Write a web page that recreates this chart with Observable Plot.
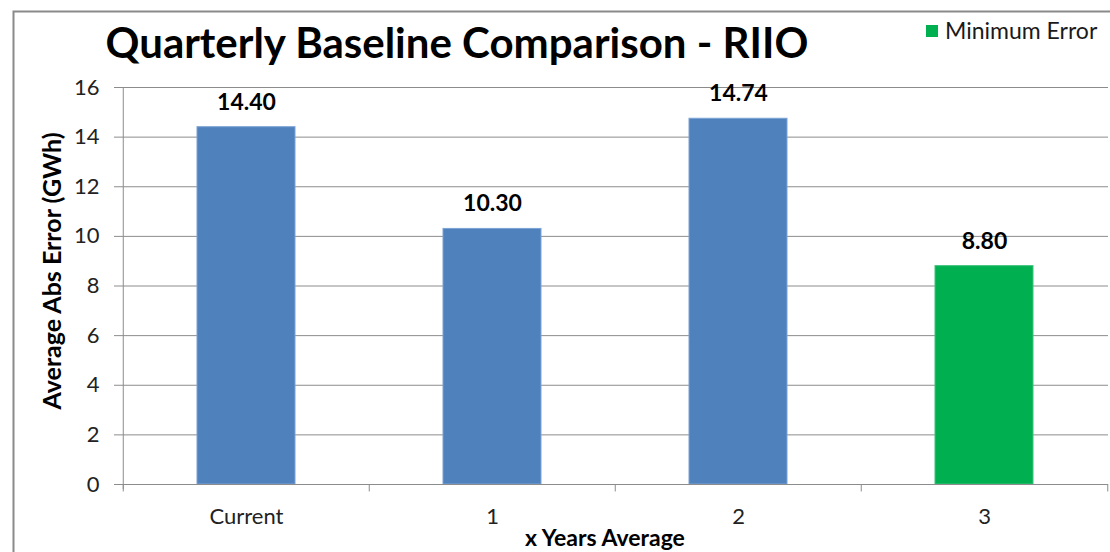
<!DOCTYPE html>
<html>
<head>
<meta charset="utf-8">
<script src="https://cdn.jsdelivr.net/npm/d3@7"></script>
<script src="https://cdn.jsdelivr.net/npm/@observablehq/plot@0.6"></script>
<style>
  html, body { margin: 0; padding: 0; background: #fff; }
  #chart svg { display: block; }
</style>
</head>
<body>
<div id="chart"></div>
<script>
// Average absolute error of each baseline method (GWh)
const categories = ["Current", "1", "2", "3"];
const errors = [14.40, 10.30, 14.74, 8.80];
const yTicks = [0, 2, 4, 6, 8, 10, 12, 14, 16];

const title = "Quarterly Baseline Comparison - RIIO";
const xTitle = "x Years Average";
const yTitle = "Average Abs Error (GWh)";
const legendLabel = "Minimum Error";

const W = 1110, H = 552;
const mL = 122, mR = 2, mT = 87, mB = 68;
const FONT = "Lato, 'Open Sans', sans-serif";
const BLUE = "#4F81BD", GREEN = "#00B050", GRID = "#8c8c8c";

const minErr = d3.min(errors);
const rows = categories.map((c, i) => ({cat: c, value: errors[i], best: errors[i] === minErr}));
const step = (W - mL - mR) / categories.length;

const plot = Plot.plot({
  width: W,
  height: H,
  marginLeft: mL,
  marginRight: mR,
  marginTop: mT,
  marginBottom: mB,
  style: {fontFamily: FONT, fontSize: "21px", color: "#222", background: "transparent"},
  x: {domain: categories, paddingInner: 0.6, paddingOuter: 0.3},
  y: {domain: [0, 16], ticks: yTicks},
  marks: [
    Plot.gridY(yTicks, {stroke: GRID, strokeOpacity: 1}),
    Plot.axisY(yTicks, {
      tickSize: 8, tickPadding: 15, stroke: GRID, fontSize: 22, label: null
    }),
    Plot.axisX({tickSize: 0, tickPadding: 24, fontSize: 22, label: null}),
    // category boundary ticks below the baseline
    Plot.ruleX(rows, {x: "cat", y1: 0, y2: -0.3, dx: -step / 2, stroke: GRID}),
    Plot.ruleX(rows.slice(-1), {x: "cat", y1: 0, y2: -0.3, dx: step / 2, stroke: GRID}),
    Plot.barY(rows, {
      x: "cat", y: "value",
      fill: d => d.best ? GREEN : BLUE,
      stroke: d => d.best ? "#3cc27a" : "#7ba3d4", strokeWidth: 1
    }),
    Plot.ruleY([0], {stroke: GRID}),
    Plot.ruleX([0], {x: () => categories[0], y1: -0.2, y2: 16, dx: -step / 2, stroke: GRID}),
    Plot.text(rows, {
      x: "cat", y: "value", text: d => d.value.toFixed(2),
      dy: -25, fontSize: 23, fontWeight: "bold", fill: "#000"
    })
  ]
});

const svg = d3.select(plot);
// outer chart border
svg.insert("rect", ":first-child")
  .attr("x", 13.5).attr("y", 11.5)
  .attr("width", W).attr("height", H)
  .attr("fill", "none").attr("stroke", "#8a8a8a").attr("stroke-width", 2);

// x-axis title
svg.append("text")
  .attr("x", 605).attr("y", 546)
  .attr("text-anchor", "middle")
  .attr("font-family", FONT).attr("font-weight", "bold")
  .attr("font-size", 23).attr("fill", "#000")
  .text(xTitle);

// y-axis title
svg.append("text")
  .attr("transform", "translate(52,271) rotate(-90)")
  .attr("text-anchor", "middle").attr("dy", "0.35em")
  .attr("font-family", FONT).attr("font-weight", "bold")
  .attr("font-size", 25).attr("fill", "#000")
  .text(yTitle);

// title
svg.append("text")
  .attr("x", 457).attr("y", 58)
  .attr("text-anchor", "middle")
  .attr("font-family", FONT).attr("font-weight", "bold")
  .attr("font-size", 42).attr("fill", "#000")
  .text(title);

// legend
const lg = svg.append("g").attr("font-family", FONT).attr("text-anchor", "start");
lg.append("rect").attr("x", 926).attr("y", 25).attr("width", 12).attr("height", 12).attr("fill", GREEN);
lg.append("text").attr("x", 945).attr("y", 31).attr("dy", "0.35em")
  .attr("font-size", 23).attr("fill", "#1a1a1a").text(legendLabel);

document.getElementById("chart").appendChild(plot);
</script>
</body>
</html>
